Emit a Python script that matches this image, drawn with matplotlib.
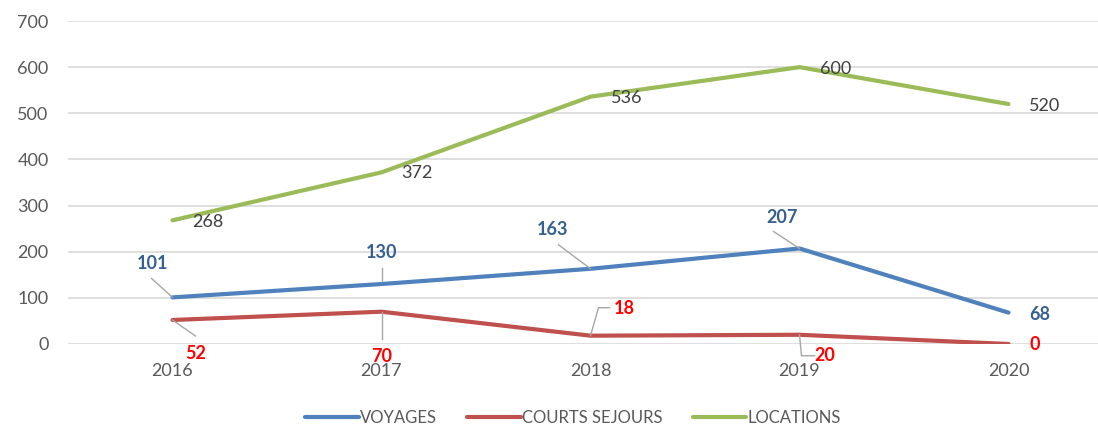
import matplotlib
matplotlib.use("Agg")
import matplotlib.pyplot as plt

years = ["2016", "2017", "2018", "2019", "2020"]
voyages = [101, 130, 163, 207, 68]
courts_sejours = [52, 70, 18, 20, 0]
locations = [268, 372, 536, 600, 520]
series_names = ["VOYAGES", "COURTS SEJOURS", "LOCATIONS"]
y_ticks = [0, 100, 200, 300, 400, 500, 600, 700]

plt.rcParams['font.family'] = ['Lato', 'DejaVu Sans']

fig = plt.figure(figsize=(10.98, 4.25), dpi=100)
W, H = 1098, 425
left_px, right_px = 68, 1113
top_px, bot_px = 21, 344
ax = fig.add_axes([left_px / W, (H - bot_px) / H, (right_px - left_px) / W, (bot_px - top_px) / H])

x = list(range(len(years)))
c_blue, c_red, c_green = "#4F81BD", "#C0504D", "#9BBB59"
ax.plot(x, voyages, color=c_blue, lw=3, solid_capstyle='round', solid_joinstyle='round', label=series_names[0], zorder=3)
ax.plot(x, courts_sejours, color=c_red, lw=3, solid_capstyle='round', solid_joinstyle='round', label=series_names[1], zorder=3)
ax.plot(x, locations, color=c_green, lw=3, solid_capstyle='round', solid_joinstyle='round', label=series_names[2], zorder=3)

ax.set_xlim(-0.5, 4.5)
ax.set_ylim(0, 700)
ax.set_yticks(y_ticks)
ax.set_xticks(x)
ax.set_xticklabels(years)
ax.grid(axis='y', color='#D9D9D9', lw=1.2)
ax.set_axisbelow(True)
for s in ax.spines.values():
    s.set_visible(False)
ax.tick_params(axis='both', length=0, labelsize=13, labelcolor='#595959')
ax.tick_params(axis='y', pad=14)
ax.tick_params(axis='x', pad=14)

label_fs = 13
# label offsets in pixels (dx, dy)
voy_off = [(-20, 34), (0, 32), (-38, 39), (-17, 31), (31, -2)]
voy_lead = [[(0, 0), (-21, 19)], [(0, 3), (0, 16)], [(0, 0), (-32, 24)], [(0, 0), (-26, 17)], None]
cs_off = [(23, -33), (0, -45), (34, 27), (25, -21), (26, -1)]
cs_lead = [[(0, 0), (23, -16)], [(0, 0), (0, -27)], [(0, 0), (8, 28), (19, 28)], [(0, 0), (2, -21), (15, -21)], None]
loc_off = [(35, -2), (35, -1), (36, -1), (36, -2), (36, -2)]

def draw_labels(vals, offs, leads, color, weight):
    inv = fig.transFigure.inverted()
    for i, v in enumerate(vals):
        dx, dy = offs[i]
        ax.annotate(str(v), (x[i], v), xytext=(dx, dy), textcoords='offset pixels',
                    ha='center', va='center', fontsize=label_fs, color=color,
                    fontweight=weight, zorder=5)
        if leads is not None and leads[i] is not None:
            disp = ax.transData.transform((x[i], v))
            fx, fy = [], []
            for px, py in leads[i]:
                f = inv.transform((disp[0] + px, disp[1] + py))
                fx.append(f[0]); fy.append(f[1])
            fig.add_artist(plt.Line2D(fx, fy, color='#A6A6A6', lw=1, zorder=4))

draw_labels(voyages, voy_off, voy_lead, '#376092', 'bold')
draw_labels(courts_sejours, cs_off, cs_lead, '#FF0000', 'bold')
draw_labels(locations, loc_off, None, '#404040', 'normal')

leg = fig.legend(loc='center', bbox_to_anchor=(0.522, 1 - 418 / H), ncol=3, frameon=False,
                 fontsize=12, handlelength=3.2, handletextpad=0.1, columnspacing=1.8,
                 borderaxespad=0)
for t in leg.get_texts():
    t.set_color('#595959')

fig.savefig("out.png", dpi=100)
